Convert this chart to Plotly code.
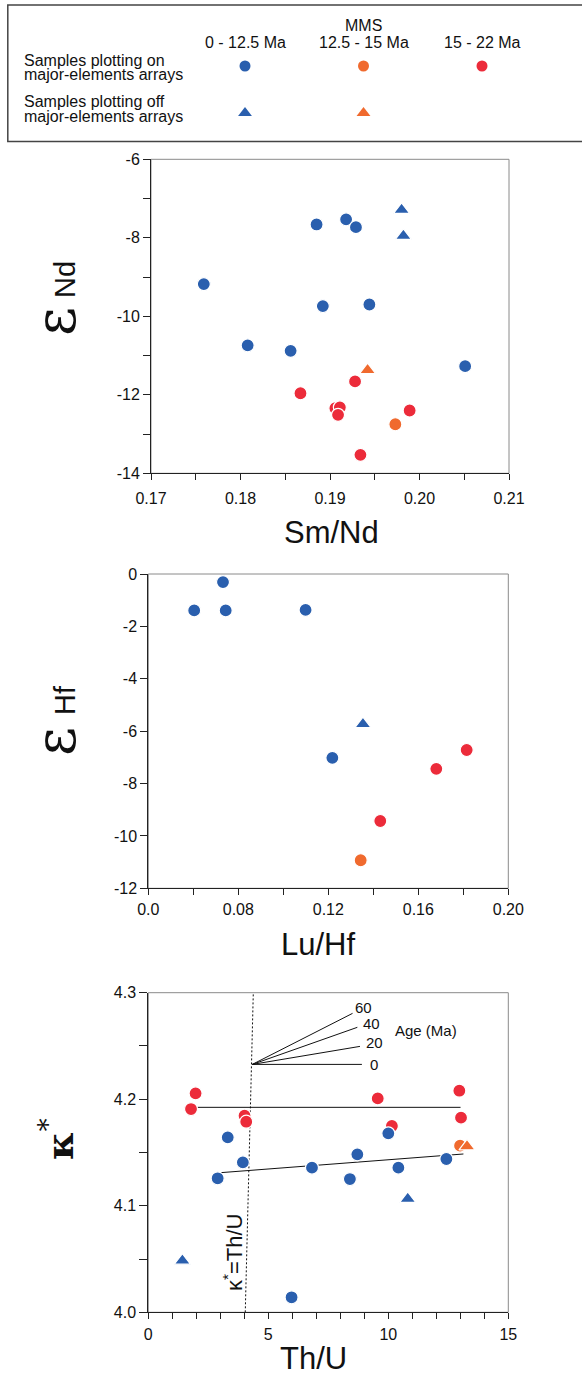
import plotly.graph_objects as go

OFF = 0
FW, FH = 582, 1377
BLUE = "#2a5fae"
ORANGE = "#f06a2e"
RED = "#ec2b3a"
FONT = "Liberation Sans, Arial, sans-serif"

# ---------------- Panel 1 : eNd vs Sm/Nd ----------------
smnd_blue_circ = [0.1759, 0.1885, 0.1918, 0.1929, 0.1892, 0.1944, 0.1808, 0.1856, 0.2051]
end_blue_circ = [-9.18, -7.66, -7.53, -7.73, -9.74, -9.70, -10.74, -10.88, -11.27]
smnd_blue_tri = [0.1980, 0.1982]
end_blue_tri = [-7.29, -7.95]
smnd_orange_circ = [0.1973]
end_orange_circ = [-12.75]
smnd_orange_tri = [0.1942]
end_orange_tri = [-11.37]
smnd_red = [0.1928, 0.1867, 0.1906, 0.1911, 0.1909, 0.1989, 0.1934]
end_red = [-11.66, -11.96, -12.34, -12.32, -12.51, -12.40, -13.53]

# ---------------- Panel 2 : eHf vs Lu/Hf ----------------
luhf_blue_circ = [0.0604, 0.0732, 0.0744, 0.1099, 0.1218]
ehf_blue_circ = [-1.39, -0.31, -1.39, -1.37, -7.02]
luhf_blue_tri = [0.1354]
ehf_blue_tri = [-5.73]
luhf_orange_circ = [0.1344]
ehf_orange_circ = [-10.93]
luhf_red = [0.1815, 0.1680, 0.1431]
ehf_red = [-6.72, -7.44, -9.43]

# ---------------- Panel 3 : kappa* vs Th/U ----------------
thu_red = [1.97, 1.78, 4.01, 4.08, 9.56, 10.15, 12.96, 13.03]
kap_red = [4.2055, 4.1908, 4.1846, 4.1789, 4.2008, 4.1749, 4.2080, 4.1827]
thu_orange_circ = [12.99]
kap_orange_circ = [4.1564]
thu_orange_tri = [13.28]
kap_orange_tri = [4.1558]
thu_blue_circ = [3.31, 3.94, 2.89, 6.82, 8.71, 8.40, 10.00, 10.42, 12.42, 5.97]
kap_blue_circ = [4.1642, 4.1408, 4.1258, 4.1358, 4.1483, 4.1251, 4.1680, 4.1358, 4.1439, 4.0141]
thu_blue_tri = [1.42, 10.81]
kap_blue_tri = [4.0485, 4.1064]

red_trend_x = [2.06, 13.01]
red_trend_y = [4.1924, 4.1924]
blue_trend_x = [3.03, 13.13]
blue_trend_y = [4.1311, 4.1486]
equal_line_x = [4.04, 4.375]
equal_line_y = [4.0, 4.3]
fan_ages = ["0", "20", "40", "60"]
fan_origin_x = 4.333
fan_origin_y = 4.2327
fan_end_x = [8.90, 8.82, 8.71, 8.51]
fan_end_y = [4.2327, 4.2496, 4.2675, 4.2806]

# ---------------- Legend categories ----------------
leg_cols = ["0 - 12.5 Ma", "12.5 - 15 Ma", "15 - 22 Ma"]
leg_rows = ["off", "on"]


def px(x):
    return (x - OFF) / FW


def py(y):
    return 1 - (y - OFF) / FH


fig = go.Figure()


def pts(x, y, color, symbol, xa, ya, size=None):
    if size is None:
        size = 13 if symbol == "circle" else 14
    fig.add_trace(go.Scatter(
        x=x, y=y, mode="markers", xaxis=xa, yaxis=ya, showlegend=False,
        marker=dict(color=color, symbol=symbol, size=size,
                    line=dict(color="white", width=1.2)),
        hoverinfo="x+y"))


# Panel 1
pts(smnd_blue_circ, end_blue_circ, BLUE, "circle", "x", "y")
pts(smnd_blue_tri, end_blue_tri, BLUE, "triangle-up", "x", "y")
pts(smnd_orange_tri, end_orange_tri, ORANGE, "triangle-up", "x", "y")
pts(smnd_orange_circ, end_orange_circ, ORANGE, "circle", "x", "y")
pts(smnd_red, end_red, RED, "circle", "x", "y")

# Panel 2
pts(luhf_blue_circ, ehf_blue_circ, BLUE, "circle", "x2", "y2")
pts(luhf_blue_tri, ehf_blue_tri, BLUE, "triangle-up", "x2", "y2")
pts(luhf_orange_circ, ehf_orange_circ, ORANGE, "circle", "x2", "y2")
pts(luhf_red, ehf_red, RED, "circle", "x2", "y2")

# Panel 3 lines
line_style = dict(color="#111", width=1)
fig.add_trace(go.Scatter(x=equal_line_x, y=equal_line_y, mode="lines", xaxis="x3", yaxis="y3",
                         showlegend=False, line=dict(color="#111", width=1, dash="2px,2px"),
                         hoverinfo="skip"))
fig.add_trace(go.Scatter(x=red_trend_x, y=red_trend_y, mode="lines", xaxis="x3", yaxis="y3",
                         showlegend=False, line=line_style, hoverinfo="skip"))
fig.add_trace(go.Scatter(x=blue_trend_x, y=blue_trend_y, mode="lines", xaxis="x3", yaxis="y3",
                         showlegend=False, line=line_style, hoverinfo="skip"))
for ex, ey in zip(fan_end_x, fan_end_y):
    fig.add_trace(go.Scatter(x=[fan_origin_x, ex], y=[fan_origin_y, ey], mode="lines",
                             xaxis="x3", yaxis="y3", showlegend=False, line=line_style,
                             hoverinfo="skip"))

pts(thu_red, kap_red, RED, "circle", "x3", "y3")
pts(thu_orange_circ, kap_orange_circ, ORANGE, "circle", "x3", "y3")
pts(thu_orange_tri, kap_orange_tri, ORANGE, "triangle-up", "x3", "y3")
pts(thu_blue_circ, kap_blue_circ, BLUE, "circle", "x3", "y3")
pts(thu_blue_tri, kap_blue_tri, BLUE, "triangle-up", "x3", "y3")

# Legend glyphs
fig.add_trace(go.Scatter(x=leg_cols, y=["on", "on", "on"], mode="markers", xaxis="x4",
                         yaxis="y4", showlegend=False, hoverinfo="skip",
                         marker=dict(color=[BLUE, ORANGE, RED], symbol="circle", size=11)))
fig.add_trace(go.Scatter(x=leg_cols[:2], y=["off", "off"], mode="markers", xaxis="x4",
                         yaxis="y4", showlegend=False, hoverinfo="skip",
                         marker=dict(color=[BLUE, ORANGE], symbol="triangle-up", size=12)))

tickfont = dict(family=FONT, size=16, color="#111")


def axis(domain, rng, vals, texts, ticklen, anchor, standoff):
    return dict(domain=domain, range=rng, tickmode="array", tickvals=vals, ticktext=texts,
                ticks="outside", ticklen=ticklen, tickwidth=1, tickcolor="#222",
                showline=True, linecolor="#222", linewidth=1, showgrid=False,
                zeroline=False, tickfont=tickfont, anchor=anchor, fixedrange=True,
                automargin=False, ticklabelstandoff=standoff)


# panel pixel boxes (page pixels)
P1 = (151, 509, 159.3, 473.3)
P2 = (148.3, 508.3, 574, 888.3)
P3 = (148.3, 508.3, 992.7, 1312.3)


def dom(p):
    return [px(p[0]), px(p[1])], [py(p[3]), py(p[2])]


d1x, d1y = dom(P1)
d2x, d2y = dom(P2)
d3x, d3y = dom(P3)

x1v = [0.17 + 0.005 * i for i in range(9)]
x1t = ["%.2f" % v if i % 2 == 0 else "" for i, v in enumerate(x1v)]
y1v = [-6 - i for i in range(9)]
y1t = [str(v) if i % 2 == 0 else "" for i, v in enumerate(y1v)]

x2v = [0.04 + 0.02 * i for i in range(9)]
x2lab = {0: "0.0", 2: "0.08", 4: "0.12", 6: "0.16", 8: "0.20"}
x2t = [x2lab.get(i, "") for i in range(9)]
y2v = [0, -2, -4, -6, -8, -10, -12]
y2t = [str(v) for v in y2v]

x3v = list(range(16))
x3t = [str(v) if v % 5 == 0 else "" for v in x3v]
y3v = [4.0 + 0.05 * i for i in range(7)]
y3t = ["%.1f" % v if i % 2 == 0 else "" for i, v in enumerate(y3v)]

fig.update_layout(
    width=FW, height=FH, margin=dict(l=0, r=0, t=0, b=0, autoexpand=False),
    paper_bgcolor="white", plot_bgcolor="white",
    font=dict(family=FONT, color="#111"),
    xaxis=axis(d1x, [0.17, 0.21], x1v, x1t, 6, "y", 4),
    yaxis=axis(d1y, [-14, -6], y1v, y1t, 7, "x", 0),
    xaxis2=axis(d2x, [0.04, 0.20], x2v, x2t, 6, "y2", 0),
    yaxis2=axis(d2y, [-12, 0], y2v, y2t, 7, "x2", 0),
    xaxis3=axis(d3x, [0, 15], x3v, x3t, 6, "y3", 1),
    yaxis3=axis(d3y, [4.0, 4.3], y3v, y3t, 8, "x3", 0),
    xaxis4=dict(domain=[px(185.75), px(541.25)], type="category", categoryorder="array",
                categoryarray=leg_cols, range=[-0.5, 2.5], visible=False, anchor="y4",
                fixedrange=True),
    yaxis4=dict(domain=[py(136.5), py(42.5)], type="category", categoryorder="array",
                categoryarray=leg_rows, range=[-0.5, 1.5], visible=False, anchor="x4",
                fixedrange=True),
)

shapes = []
for xr, yr in [("x", "y"), ("x2", "y2"), ("x3", "y3")]:
    shapes.append(dict(type="rect", xref=xr + " domain", yref=yr + " domain",
                       x0=0, x1=1, y0=0, y1=1, layer="below",
                       line=dict(color="#8a8a8a", width=1)))
shapes.append(dict(type="rect", xref="paper", yref="paper", x0=px(7.8), x1=px(600),
                   y0=py(141.5), y1=py(5), line=dict(color="#444", width=1.5)))
fig.update_layout(shapes=shapes)

ann = []


def text(x, y, s, size, xref="paper", yref="paper", angle=0, xanchor="center",
         yanchor="middle", family=FONT, xshift=0, yshift=0):
    ann.append(dict(x=x, y=y, xref=xref, yref=yref, text=s, showarrow=False,
                    textangle=angle, xanchor=xanchor, yanchor=yanchor,
                    font=dict(family=family, size=size, color="#111"),
                    xshift=xshift, yshift=yshift))


# Legend text
text(px(21.5), py(60), "Samples plotting on", 16, xanchor="left")
text(px(21.5), py(74.5), "major-elements arrays", 16, xanchor="left")
text(px(21.5), py(101.5), "Samples plotting off", 16, xanchor="left")
text(px(21.5), py(116), "major-elements arrays", 16, xanchor="left")
text(leg_cols[1], py(25), "MMS", 16, xref="x4")
for c in leg_cols:
    text(c, py(43), c, 16, xref="x4")

# Axis titles
text(px(331), py(532), "Sm/Nd", 31)
text(px(318), py(944), "Lu/Hf", 31)
text(px(313), py(1358), "Th/U", 31)

text(px(55), py(322), "ε", 56, angle=-90, family="DejaVu Serif")
text(px(65), py(280), "Nd", 29, angle=-90)
text(px(55), py(742), "ε", 56, angle=-90, family="DejaVu Serif")
text(px(65), py(700), "Hf", 29, angle=-90)
text(px(57), py(1139), "<b>κ</b><sup>*</sup>", 38, angle=-90, family="DejaVu Serif")

# Panel 3 in-plot text
fan_xshift = [6, 4, 4, 0]
fan_yshift = [0, 4, 4, 6]
for a, ex, ey, xs, ys in zip(fan_ages, fan_end_x, fan_end_y, fan_xshift, fan_yshift):
    text(ex, ey, a, 15, xref="x3", yref="y3", xanchor="left", xshift=xs, yshift=ys)
text(11.57, 4.2643, "Age (Ma)", 15, xref="x3", yref="y3")
text(3.53, 4.0566, "κ<sup>*</sup>=Th/U", 22, xref="x3", yref="y3", angle=-90)

fig.update_layout(annotations=ann)
fig.write_html("out.html")
